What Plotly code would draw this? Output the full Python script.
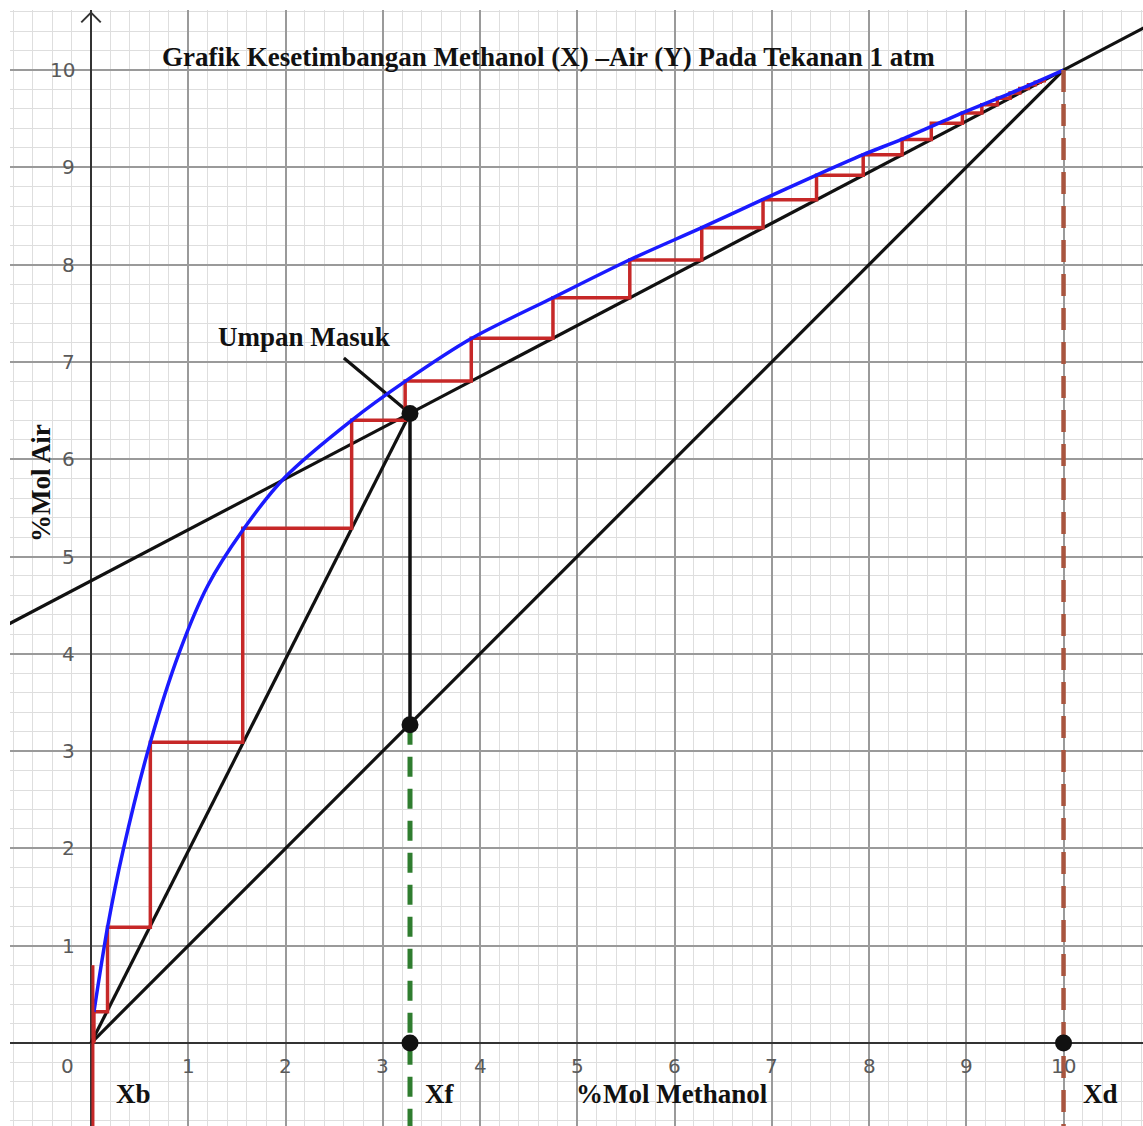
import plotly.graph_objects as go

# ---------------- data ----------------
# equilibrium curve (blue)
eq_x = [0.03, 0.17, 0.33, 0.61, 0.91, 1.20, 1.56, 1.99, 2.68, 3.23, 3.91, 4.75, 5.54, 6.28, 6.91, 7.46, 7.94, 8.34, 8.96, 9.45, 10.0]
eq_y = [0.32, 1.19, 1.98, 3.09, 4.02, 4.70, 5.27, 5.81, 6.40, 6.80, 7.24, 7.66, 8.05, 8.38, 8.67, 8.92, 9.13, 9.29, 9.56, 9.76, 10.0]

# staircase: x of each vertical riser and y of the horizontal tread that reaches it
stair_x = [9.76, 9.71, 9.64, 9.55, 9.45, 9.32, 9.16, 8.96, 8.64, 8.34, 7.94, 7.46, 6.91, 6.28, 5.54, 4.75, 3.91, 3.23, 2.68, 1.56, 0.61, 0.17, 0.03]
stair_y = [9.89, 9.874, 9.848, 9.811, 9.764, 9.711, 9.643, 9.559, 9.454, 9.286, 9.129, 8.919, 8.667, 8.378, 8.047, 7.659, 7.244, 6.803, 6.40, 5.29, 3.09, 1.19, 0.32]
stair_start_x = 9.82
stair_end_y = 0.0

# diagonal y = x
diag_x = [0.0, 10.0]
diag_y = [0.0, 10.0]
# rectifying operating line (extended across the view)
rect_x = [-1.0, 11.0]
rect_y = [4.225, 10.525]
# stripping operating line
strip_x = [0.0, 3.28]
strip_y = [0.0, 6.47]
# q-line (vertical feed line)
q_x = [3.28, 3.28]
q_y = [3.27, 6.47]
# pointer of "Umpan Masuk"
ptr_x = [2.60, 3.28]
ptr_y = [7.04, 6.47]
# composition markers
xb, xf, xd = 0.02, 3.28, 10.0
xb_y = [0.80, -1.0]
xf_y = [3.27, -1.0]
xd_y = [10.0, -1.0]
dot_x = [3.28, 3.28, 3.28, 10.0]
dot_y = [6.47, 3.27, 0.0, 0.0]

tick_vals = list(range(1, 11))
tick_text = [str(v) for v in tick_vals]

# ---------------- figure ----------------
fig = go.Figure()

BLACK = "#111111"
RED = "#c62828"
BLUE = "#1a1aff"

fig.add_trace(go.Scatter(x=diag_x, y=diag_y, mode="lines", line=dict(color=BLACK, width=3.2)))
fig.add_trace(go.Scatter(x=rect_x, y=rect_y, mode="lines", line=dict(color=BLACK, width=3.2)))
fig.add_trace(go.Scatter(x=strip_x, y=strip_y, mode="lines", line=dict(color=BLACK, width=3.2)))
fig.add_trace(go.Scatter(x=q_x, y=q_y, mode="lines", line=dict(color=BLACK, width=3.5)))
fig.add_trace(go.Scatter(x=ptr_x, y=ptr_y, mode="lines", line=dict(color=BLACK, width=3.2)))

# staircase path
sx = [stair_start_x]
sy = [stair_y[0]]
for i in range(len(stair_x)):
    sx.append(stair_x[i]); sy.append(stair_y[i])
    nxt = stair_y[i + 1] if i + 1 < len(stair_y) else stair_end_y
    sx.append(stair_x[i]); sy.append(nxt)
fig.add_trace(go.Scatter(x=sx, y=sy, mode="lines", line=dict(color=RED, width=3.5)))

fig.add_trace(go.Scatter(x=eq_x, y=eq_y, mode="lines", line=dict(color=BLUE, width=3.5, shape="spline", smoothing=0.8)))

fig.add_trace(go.Scatter(x=[xb, xb], y=xb_y, mode="lines", line=dict(color=RED, width=3)))
fig.add_trace(go.Scatter(x=[xf, xf], y=xf_y, mode="lines", line=dict(color="#2f7d2f", width=5, dash="20px,12px")))
fig.add_trace(go.Scatter(x=[xd, xd], y=xd_y, mode="lines", line=dict(color="#a8553f", width=4.5, dash="22px,12px")))

fig.add_trace(go.Scatter(x=dot_x, y=dot_y, mode="markers", marker=dict(color=BLACK, size=17)))

annotations = []
num_font = dict(family="DejaVu Sans", size=20, color="#5a5a5a")
for v, t in zip(tick_vals, tick_text):
    annotations.append(dict(x=v, y=-0.24, text=t, showarrow=False, font=num_font, xanchor="center", yanchor="middle"))
    annotations.append(dict(x=-0.14, y=v, text=t, showarrow=False, font=num_font, xanchor="right", yanchor="middle"))
annotations.append(dict(x=-0.24, y=-0.24, text="0", showarrow=False, font=num_font, xanchor="center", yanchor="middle"))

lab_font = dict(family="Liberation Serif", size=27, color="#111111")
annotations += [
    dict(x=4.70, y=10.13, text="<b>Grafik Kesetimbangan Methanol (X) –Air (Y) Pada Tekanan 1 atm</b>", showarrow=False, font=lab_font, xanchor="center", yanchor="middle"),
    dict(x=2.19, y=7.26, text="<b>Umpan Masuk</b>", showarrow=False, font=lab_font, xanchor="center", yanchor="middle"),
    dict(x=5.97, y=-0.52, text="<b>%Mol Methanol</b>", showarrow=False, font=lab_font, xanchor="center", yanchor="middle"),
    dict(x=-0.52, y=5.76, text="<b>%Mol Air</b>", showarrow=False, font=lab_font, textangle=-90, xanchor="center", yanchor="middle"),
    dict(x=0.44, y=-0.52, text="<b>Xb</b>", showarrow=False, font=lab_font, xanchor="center", yanchor="middle"),
    dict(x=3.58, y=-0.52, text="<b>Xf</b>", showarrow=False, font=lab_font, xanchor="center", yanchor="middle"),
    dict(x=10.38, y=-0.52, text="<b>Xd</b>", showarrow=False, font=lab_font, xanchor="center", yanchor="middle"),
]

axis_common = dict(
    dtick=1, tick0=0, showgrid=True, gridcolor="#9a9a9a", gridwidth=1.5,
    minor=dict(dtick=0.2, tick0=0, showgrid=True, gridcolor="#dedede", gridwidth=1),
    showticklabels=False, ticks="", zeroline=True, zerolinecolor="#333333", zerolinewidth=2,
    showline=False, fixedrange=True,
)

fig.update_layout(
    width=1143, height=1126,
    margin=dict(l=10, r=0, t=10, b=0),
    paper_bgcolor="white", plot_bgcolor="white",
    showlegend=False,
    xaxis=dict(range=[-0.833, 10.817], **axis_common),
    yaxis=dict(range=[-0.853, 10.617], **axis_common),
    annotations=annotations,
    shapes=[dict(type="path", xref="x", yref="y", path="M -0.1,10.49 L 0,10.59 L 0.1,10.49",
                 line=dict(color="#333333", width=2))],
)

fig.write_html("out.html")
